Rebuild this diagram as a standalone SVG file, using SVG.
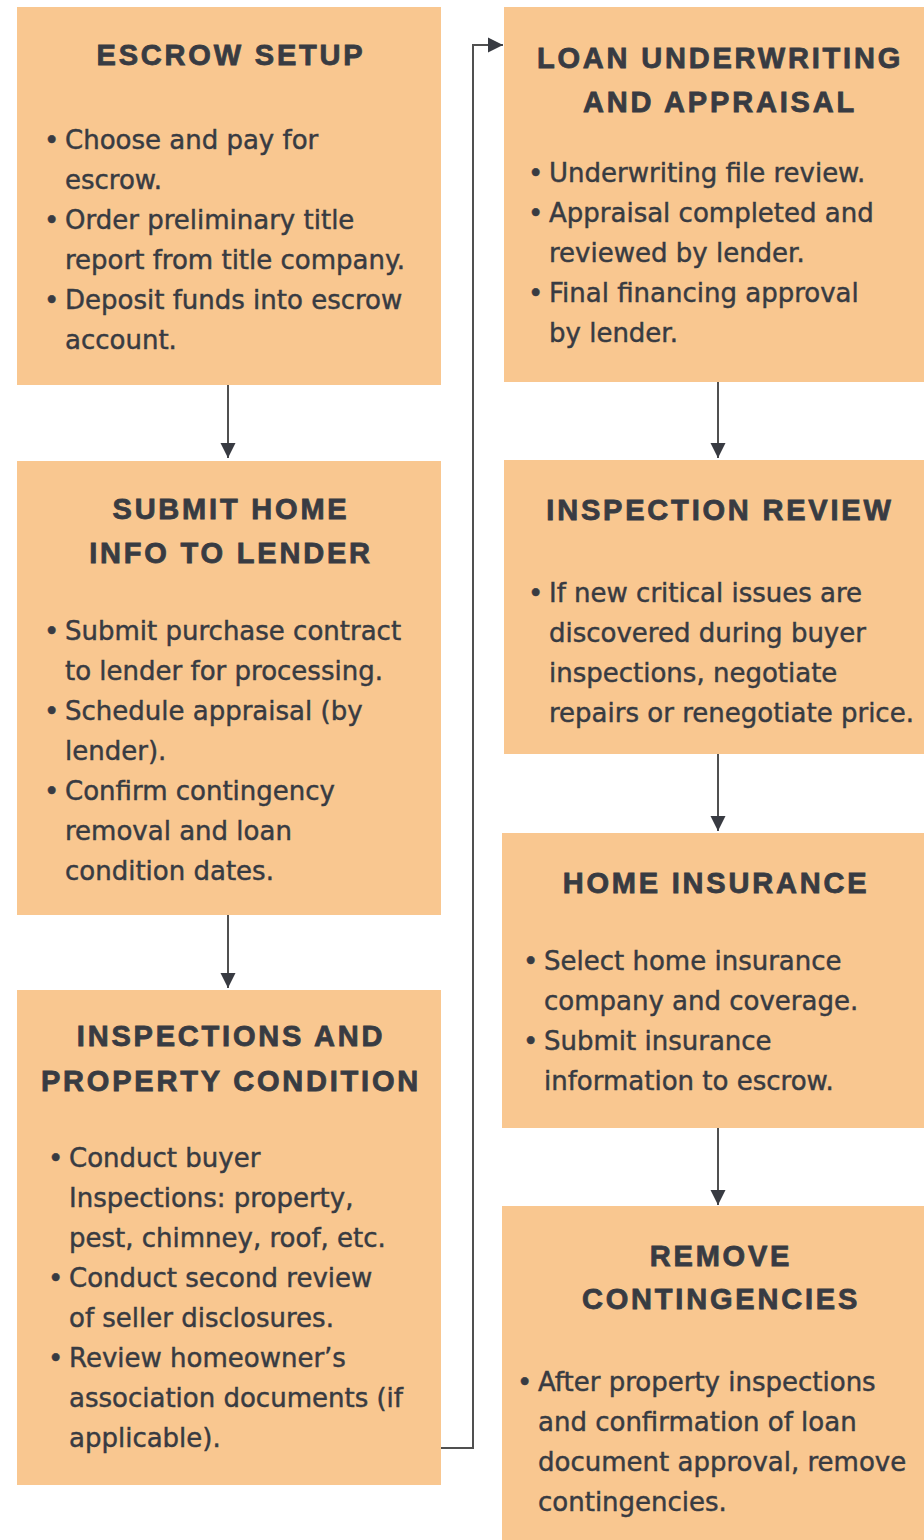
<svg xmlns="http://www.w3.org/2000/svg" width="924" height="1540" viewBox="0 0 924 1540">
<defs>
<style>
.box{fill:#F9C790;}
.t{font-family:"Liberation Sans",Arial,sans-serif;font-weight:bold;font-size:29px;letter-spacing:2.8px;fill:#383B42;stroke:#383B42;stroke-width:0.8px;text-anchor:middle;}
.b{font-family:"DejaVu Sans",sans-serif;font-size:26px;fill:#383B42;stroke:#383B42;stroke-width:0.45px;}
.c{fill:none;stroke:#505050;stroke-width:2;}
</style>
<marker id="ah" markerUnits="userSpaceOnUse" markerWidth="18" markerHeight="18" viewBox="0 0 18 18" refX="15" refY="9" orient="auto">
<path d="M0,1.5 L15,9 L0,16.5 Z" fill="#383B42"/>
</marker>
</defs>
<rect width="924" height="1540" fill="#FFFFFF"/>

<g id="connectors">
<line class="c" x1="228" y1="385" x2="228" y2="458" marker-end="url(#ah)"/>
<line class="c" x1="228" y1="915" x2="228" y2="988" marker-end="url(#ah)"/>
<line class="c" x1="718" y1="382" x2="718" y2="458" marker-end="url(#ah)"/>
<line class="c" x1="718" y1="754" x2="718" y2="831" marker-end="url(#ah)"/>
<line class="c" x1="718" y1="1128" x2="718" y2="1205" marker-end="url(#ah)"/>
<path class="c" d="M441,1448 H473 V45 H503" marker-end="url(#ah)"/>
</g>

<g id="escrow-setup">
<rect class="box" x="17" y="7" width="424" height="378"/>
<text class="t" x="231" y="65">ESCROW SETUP</text>
<text class="b" x="44" y="149">•</text>
<text class="b" x="65" y="149">Choose and pay for</text>
<text class="b" x="65" y="189">escrow.</text>
<text class="b" x="44" y="229">•</text>
<text class="b" x="65" y="229">Order preliminary title</text>
<text class="b" x="65" y="269">report from title company.</text>
<text class="b" x="44" y="309">•</text>
<text class="b" x="65" y="309">Deposit funds into escrow</text>
<text class="b" x="65" y="349">account.</text>
</g>

<g id="submit-home-info">
<rect class="box" x="17" y="461" width="424" height="454"/>
<text class="t" x="231" y="519">SUBMIT HOME</text>
<text class="t" x="231" y="563">INFO TO LENDER</text>
<text class="b" x="44" y="640">•</text>
<text class="b" x="65" y="640">Submit purchase contract</text>
<text class="b" x="65" y="680">to lender for processing.</text>
<text class="b" x="44" y="720">•</text>
<text class="b" x="65" y="720">Schedule appraisal (by</text>
<text class="b" x="65" y="760">lender).</text>
<text class="b" x="44" y="800">•</text>
<text class="b" x="65" y="800">Confirm contingency</text>
<text class="b" x="65" y="840">removal and loan</text>
<text class="b" x="65" y="880">condition dates.</text>
</g>

<g id="inspections-property-condition">
<rect class="box" x="17" y="990" width="424" height="495"/>
<text class="t" x="231" y="1046">INSPECTIONS AND</text>
<text class="t" x="231" y="1091">PROPERTY CONDITION</text>
<text class="b" x="48" y="1167">•</text>
<text class="b" x="69" y="1167">Conduct buyer</text>
<text class="b" x="69" y="1207">Inspections: property,</text>
<text class="b" x="69" y="1247">pest, chimney, roof, etc.</text>
<text class="b" x="48" y="1287">•</text>
<text class="b" x="69" y="1287">Conduct second review</text>
<text class="b" x="69" y="1327">of seller disclosures.</text>
<text class="b" x="48" y="1367">•</text>
<text class="b" x="69" y="1367">Review homeowner’s</text>
<text class="b" x="69" y="1407">association documents (if</text>
<text class="b" x="69" y="1447">applicable).</text>
</g>

<g id="loan-underwriting">
<rect class="box" x="504" y="7" width="420" height="375"/>
<text class="t" x="720" y="68">LOAN UNDERWRITING</text>
<text class="t" x="720" y="112">AND APPRAISAL</text>
<text class="b" x="528" y="182">•</text>
<text class="b" x="549" y="182">Underwriting file review.</text>
<text class="b" x="528" y="222">•</text>
<text class="b" x="549" y="222">Appraisal completed and</text>
<text class="b" x="549" y="262">reviewed by lender.</text>
<text class="b" x="528" y="302">•</text>
<text class="b" x="549" y="302">Final financing approval</text>
<text class="b" x="549" y="342">by lender.</text>
</g>

<g id="inspection-review">
<rect class="box" x="504" y="460" width="420" height="294"/>
<text class="t" x="720" y="520">INSPECTION REVIEW</text>
<text class="b" x="528" y="602">•</text>
<text class="b" x="549" y="602">If new critical issues are</text>
<text class="b" x="549" y="642">discovered during buyer</text>
<text class="b" x="549" y="682">inspections, negotiate</text>
<text class="b" x="549" y="722">repairs or renegotiate price.</text>
</g>

<g id="home-insurance">
<rect class="box" x="502" y="833" width="422" height="295"/>
<text class="t" x="716" y="893">HOME INSURANCE</text>
<text class="b" x="523" y="970">•</text>
<text class="b" x="544" y="970">Select home insurance</text>
<text class="b" x="544" y="1010">company and coverage.</text>
<text class="b" x="523" y="1050">•</text>
<text class="b" x="544" y="1050">Submit insurance</text>
<text class="b" x="544" y="1090">information to escrow.</text>
</g>

<g id="remove-contingencies">
<rect class="box" x="502" y="1206" width="422" height="334"/>
<text class="t" x="721" y="1266">REMOVE</text>
<text class="t" x="721" y="1309">CONTINGENCIES</text>
<text class="b" x="517" y="1391">•</text>
<text class="b" x="538" y="1391">After property inspections</text>
<text class="b" x="538" y="1431">and confirmation of loan</text>
<text class="b" x="538" y="1471">document approval, remove</text>
<text class="b" x="538" y="1511">contingencies.</text>
</g>
</svg>
